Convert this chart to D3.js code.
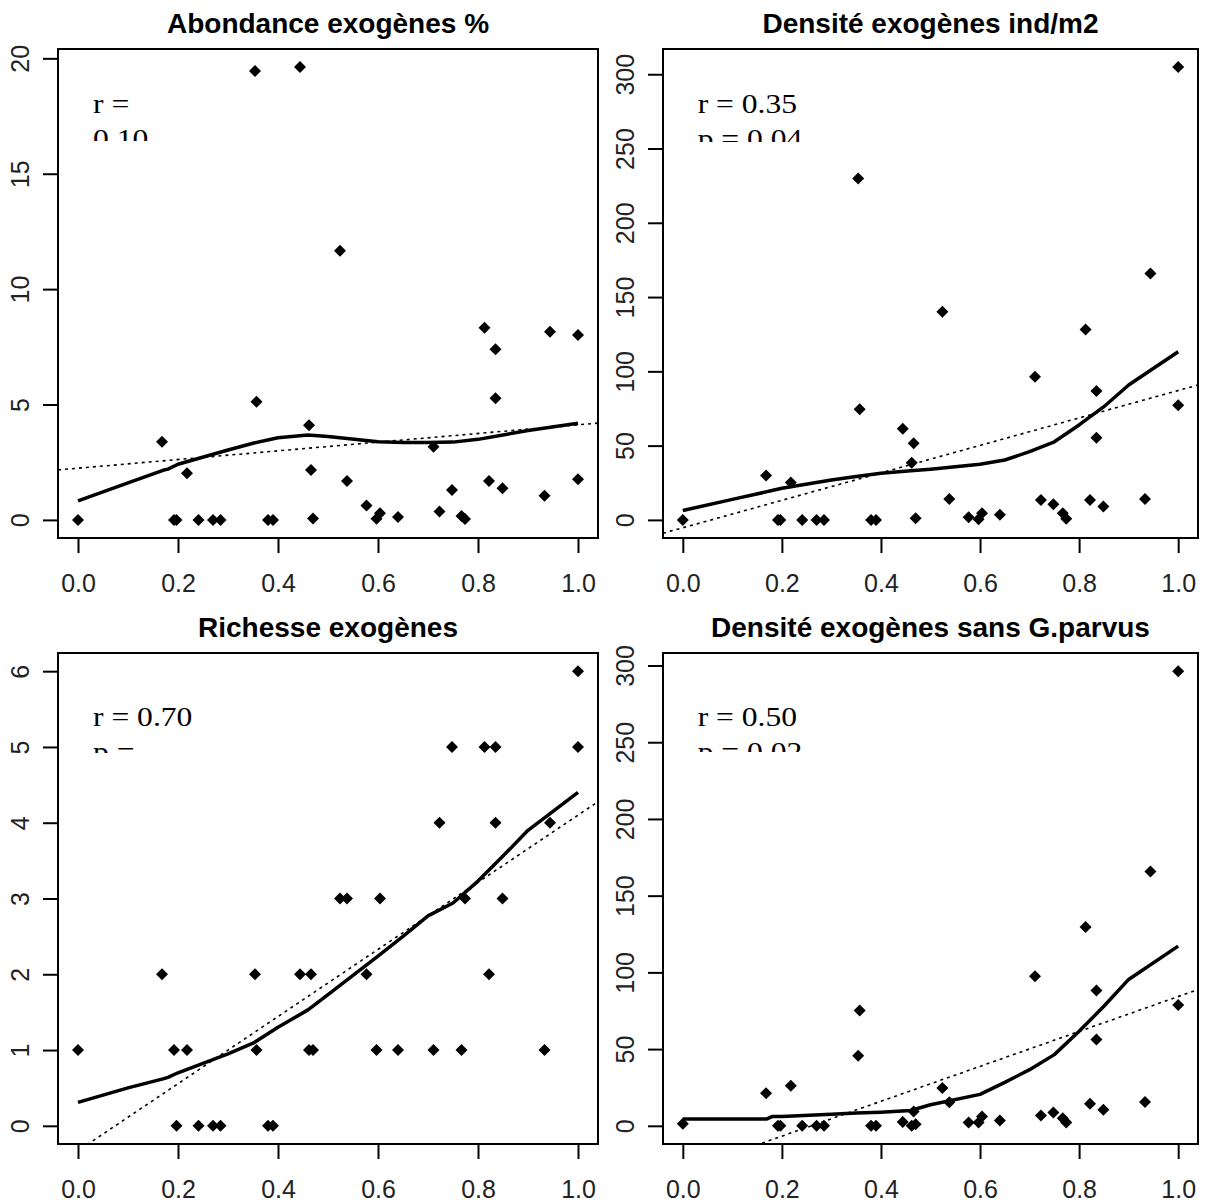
<!DOCTYPE html>
<html>
<head>
<meta charset="utf-8">
<script src="https://cdn.jsdelivr.net/npm/d3@7"></script>
<style>
  body { margin: 0; background: #fff; }
</style>
</head>
<body>
<div id="chart"></div>
<script>
// site values (x shared by the four panels)
var siteX = [0.000, 0.168, 0.192, 0.197, 0.218, 0.241, 0.270, 0.285, 0.354, 0.357, 0.380, 0.390,
  0.444, 0.462, 0.466, 0.470, 0.524, 0.538, 0.577, 0.597, 0.604, 0.640, 0.711, 0.723,
  0.748, 0.767, 0.774, 0.813, 0.822, 0.835, 0.835, 0.849, 0.933, 0.944, 1.000, 1.000];

var abondance = [0, 3.39, 0, 0, 2.02, 0, 0, 0, 19.45, 5.12, 0, 0,
  19.62, 4.10, 2.16, 0.06, 11.66, 1.69, 0.62, 0.05, 0.29, 0.12, 3.17, 0.36,
  1.30, 0.17, 0.04, 8.33, 1.69, 7.39, 5.27, 1.37, 1.05, 8.15, 8.01, 1.76];

var densite = [0, 29.8, 0, 0, 25.1, 0, 0, 0, 229.8, 74.4, 0, 0,
  61.4, 38.5, 51.6, 1.1, 140.1, 14.1, 1.8, 0.5, 4.5, 3.4, 96.4, 13.4,
  10.5, 4.5, 0.7, 128.2, 13.4, 86.7, 55.3, 9.0, 14.1, 165.9, 304.8, 77.1];

var richesse = [1, 2, 1, 0, 1, 0, 0, 0, 2, 1, 0, 0,
  2, 1, 2, 1, 3, 3, 2, 1, 3, 1, 1, 4,
  5, 1, 3, 5, 2, 5, 4, 3, 1, 4, 6, 5];

var densiteSansGp = [1.3, 21.3, 0, 0, 26.1, 0, 0, 0, 45.7, 75.1, 0, 0,
  2.5, 0, 9.3, 1.1, 24.6, 15.3, 2.2, 2.2, 6.1, 3.5, 97.5, 6.7,
  8.7, 5.0, 2.2, 129.5, 14.4, 88.2, 56.2, 10.5, 15.5, 165.7, 296.3, 78.8];

// smoothed curves (solid lines)
var fitX = [0, 0.1, 0.17, 0.18, 0.2, 0.3, 0.35, 0.4, 0.46, 0.5, 0.6, 0.65, 0.7, 0.75, 0.8, 0.85, 0.9, 1.0];
var fitAbondance = [0.82, 1.6, 2.15, 2.2, 2.41, 3.03, 3.32, 3.56, 3.68, 3.61, 3.39, 3.35, 3.35, 3.37, 3.49, 3.68, 3.87, 4.19];
var fitDensite = [6.3, 13.8, 19.0, 19.8, 21.3, 26.9, 29.2, 31.4, 33.0, 34.1, 37.4, 40.3, 45.9, 52.6, 63.9, 76.2, 90.8, 113.2];
var fitRichesse = [0.31, 0.50, 0.62, 0.64, 0.70, 0.95, 1.09, 1.30, 1.53, 1.73, 2.24, 2.50, 2.77, 2.94, 3.23, 3.56, 3.90, 4.40];
var fitSansGp = [4.4, 4.4, 4.5, 6.0, 6.1, 7.6, 8.3, 8.9, 10.0, 13.7, 20.5, 28.3, 36.6, 46.4, 61.6, 77.9, 95.4, 117.1];

// linear regressions (dotted lines): intercept, slope
var lmIntercept = [2.24, -5.3, -0.33, -29.5];
var lmSlope = [1.88, 92.4, 4.43, 113.75];

var titles = ["Abondance exogènes %", "Densité exogènes ind/m2", "Richesse exogènes", "Densité exogènes sans G.parvus"];
var notes = [["r =", "0.10"], ["r = 0.35", "p = 0.04"], ["r = 0.70", "p ="], ["r = 0.50", "p = 0.02"]];

var xTicks = [0, 0.2, 0.4, 0.6, 0.8, 1.0];
var yTicks = [[0, 5, 10, 15, 20], [0, 50, 100, 150, 200, 250, 300], [0, 1, 2, 3, 4, 5, 6], [0, 50, 100, 150, 200, 250, 300]];

var series = [abondance, densite, richesse, densiteSansGp];
var fits = [fitAbondance, fitDensite, fitRichesse, fitSansGp];

// layout of the four plot boxes
var boxes = [
  {left: 58, top: 49, right: 598, bottom: 538, noteY: 64, clipH: 90},
  {left: 663, top: 49, right: 1198, bottom: 538, noteY: 64, clipH: 91},
  {left: 58, top: 653, right: 598, bottom: 1144, noteY: 73, clipH: 98},
  {left: 663, top: 653, right: 1198, bottom: 1144, noteY: 73, clipH: 97}
];

var svg = d3.select("#chart")
  .append("svg")
  .attr("width", 1205)
  .attr("height", 1204)
  .style("background", "#fff");

var sans = "'Liberation Sans', Arial, Helvetica, sans-serif";
var serif = "'Liberation Serif', 'Times New Roman', serif";

function padded(ext) {
  var pad = (ext[1] - ext[0]) * 0.04;
  return [ext[0] - pad, ext[1] + pad];
}

boxes.forEach(function(b, i) {
  var values = series[i];

  var x = d3.scaleLinear().domain(padded(d3.extent(siteX))).range([b.left, b.right]);
  var y = d3.scaleLinear().domain(padded(d3.extent(values))).range([b.bottom, b.top]);

  var g = svg.append("g");

  // clip for the regression line
  svg.append("clipPath").attr("id", "box" + i)
    .append("rect")
    .attr("x", b.left).attr("y", b.top)
    .attr("width", b.right - b.left).attr("height", b.bottom - b.top);

  // title
  g.append("text")
    .attr("x", (b.left + b.right) / 2)
    .attr("y", b.top - 16)
    .attr("text-anchor", "middle")
    .attr("font-family", sans)
    .attr("font-weight", "bold")
    .attr("font-size", "28px")
    .text(titles[i]);

  // x axis
  var xAxis = g.append("g")
    .attr("transform", `translate(0, ${b.bottom})`)
    .call(d3.axisBottom(x).tickValues(xTicks).tickSize(15).tickFormat(d3.format(".1f")));
  xAxis.select(".domain").remove();
  xAxis.selectAll("line").attr("stroke", "#000").attr("stroke-width", 2);
  xAxis.selectAll("text")
    .attr("y", 54)
    .attr("dy", null)
    .attr("fill", "#222")
    .attr("font-family", sans)
    .attr("font-size", "25px");

  // y axis
  var yAxis = g.append("g")
    .attr("transform", `translate(${b.left}, 0)`)
    .call(d3.axisLeft(y).tickValues(yTicks[i]).tickSize(15).tickFormat(d3.format("d")));
  yAxis.select(".domain").remove();
  yAxis.selectAll("line").attr("stroke", "#000").attr("stroke-width", 2);
  yAxis.selectAll("text")
    .attr("transform", "rotate(-90)")
    .attr("x", 0)
    .attr("y", -29)
    .attr("dy", null)
    .attr("text-anchor", "middle")
    .attr("fill", "#222")
    .attr("font-family", sans)
    .attr("font-size", "25px");

  // plot box
  g.append("rect")
    .attr("x", b.left).attr("y", b.top)
    .attr("width", b.right - b.left).attr("height", b.bottom - b.top)
    .attr("fill", "none")
    .attr("stroke", "#000")
    .attr("stroke-width", 2);

  // regression line
  var xd = x.domain();
  g.append("line")
    .attr("clip-path", `url(#box${i})`)
    .attr("x1", x(xd[0])).attr("y1", y(lmIntercept[i] + lmSlope[i] * xd[0]))
    .attr("x2", x(xd[1])).attr("y2", y(lmIntercept[i] + lmSlope[i] * xd[1]))
    .attr("stroke", "#000")
    .attr("stroke-width", 1.6)
    .attr("stroke-dasharray", "3,4");

  // smooth line
  var line = d3.line()
    .x(function(d, j) { return x(fitX[j]); })
    .y(function(d) { return y(d); });
  g.append("path")
    .datum(fits[i])
    .attr("d", line)
    .attr("fill", "none")
    .attr("stroke", "#000")
    .attr("stroke-width", 3.5)
    .attr("stroke-linejoin", "round");

  // points
  g.selectAll(null)
    .data(values)
    .enter()
    .append("path")
    .attr("d", d3.symbol(d3.symbolSquare, 72))
    .attr("transform", function(d, j) { return `translate(${x(siteX[j])},${y(d)}) rotate(45)`; })
    .attr("fill", "#000");

  // correlation note, clipped like the original
  svg.append("clipPath").attr("id", "note" + i)
    .append("rect")
    .attr("x", b.left + 2).attr("y", b.top + 2)
    .attr("width", 300).attr("height", b.clipH);

  var note = g.append("g").attr("clip-path", `url(#note${i})`);
  notes[i].forEach(function(t, k) {
    note.append("text")
      .attr("transform", `translate(${x(0.03)}, ${b.top + b.noteY + k * 35}) scale(1.17,1)`)
      .attr("font-family", serif)
      .attr("font-size", "27px")
      .attr("fill", "#000")
      .text(t);
  });
});
</script>
</body>
</html>
